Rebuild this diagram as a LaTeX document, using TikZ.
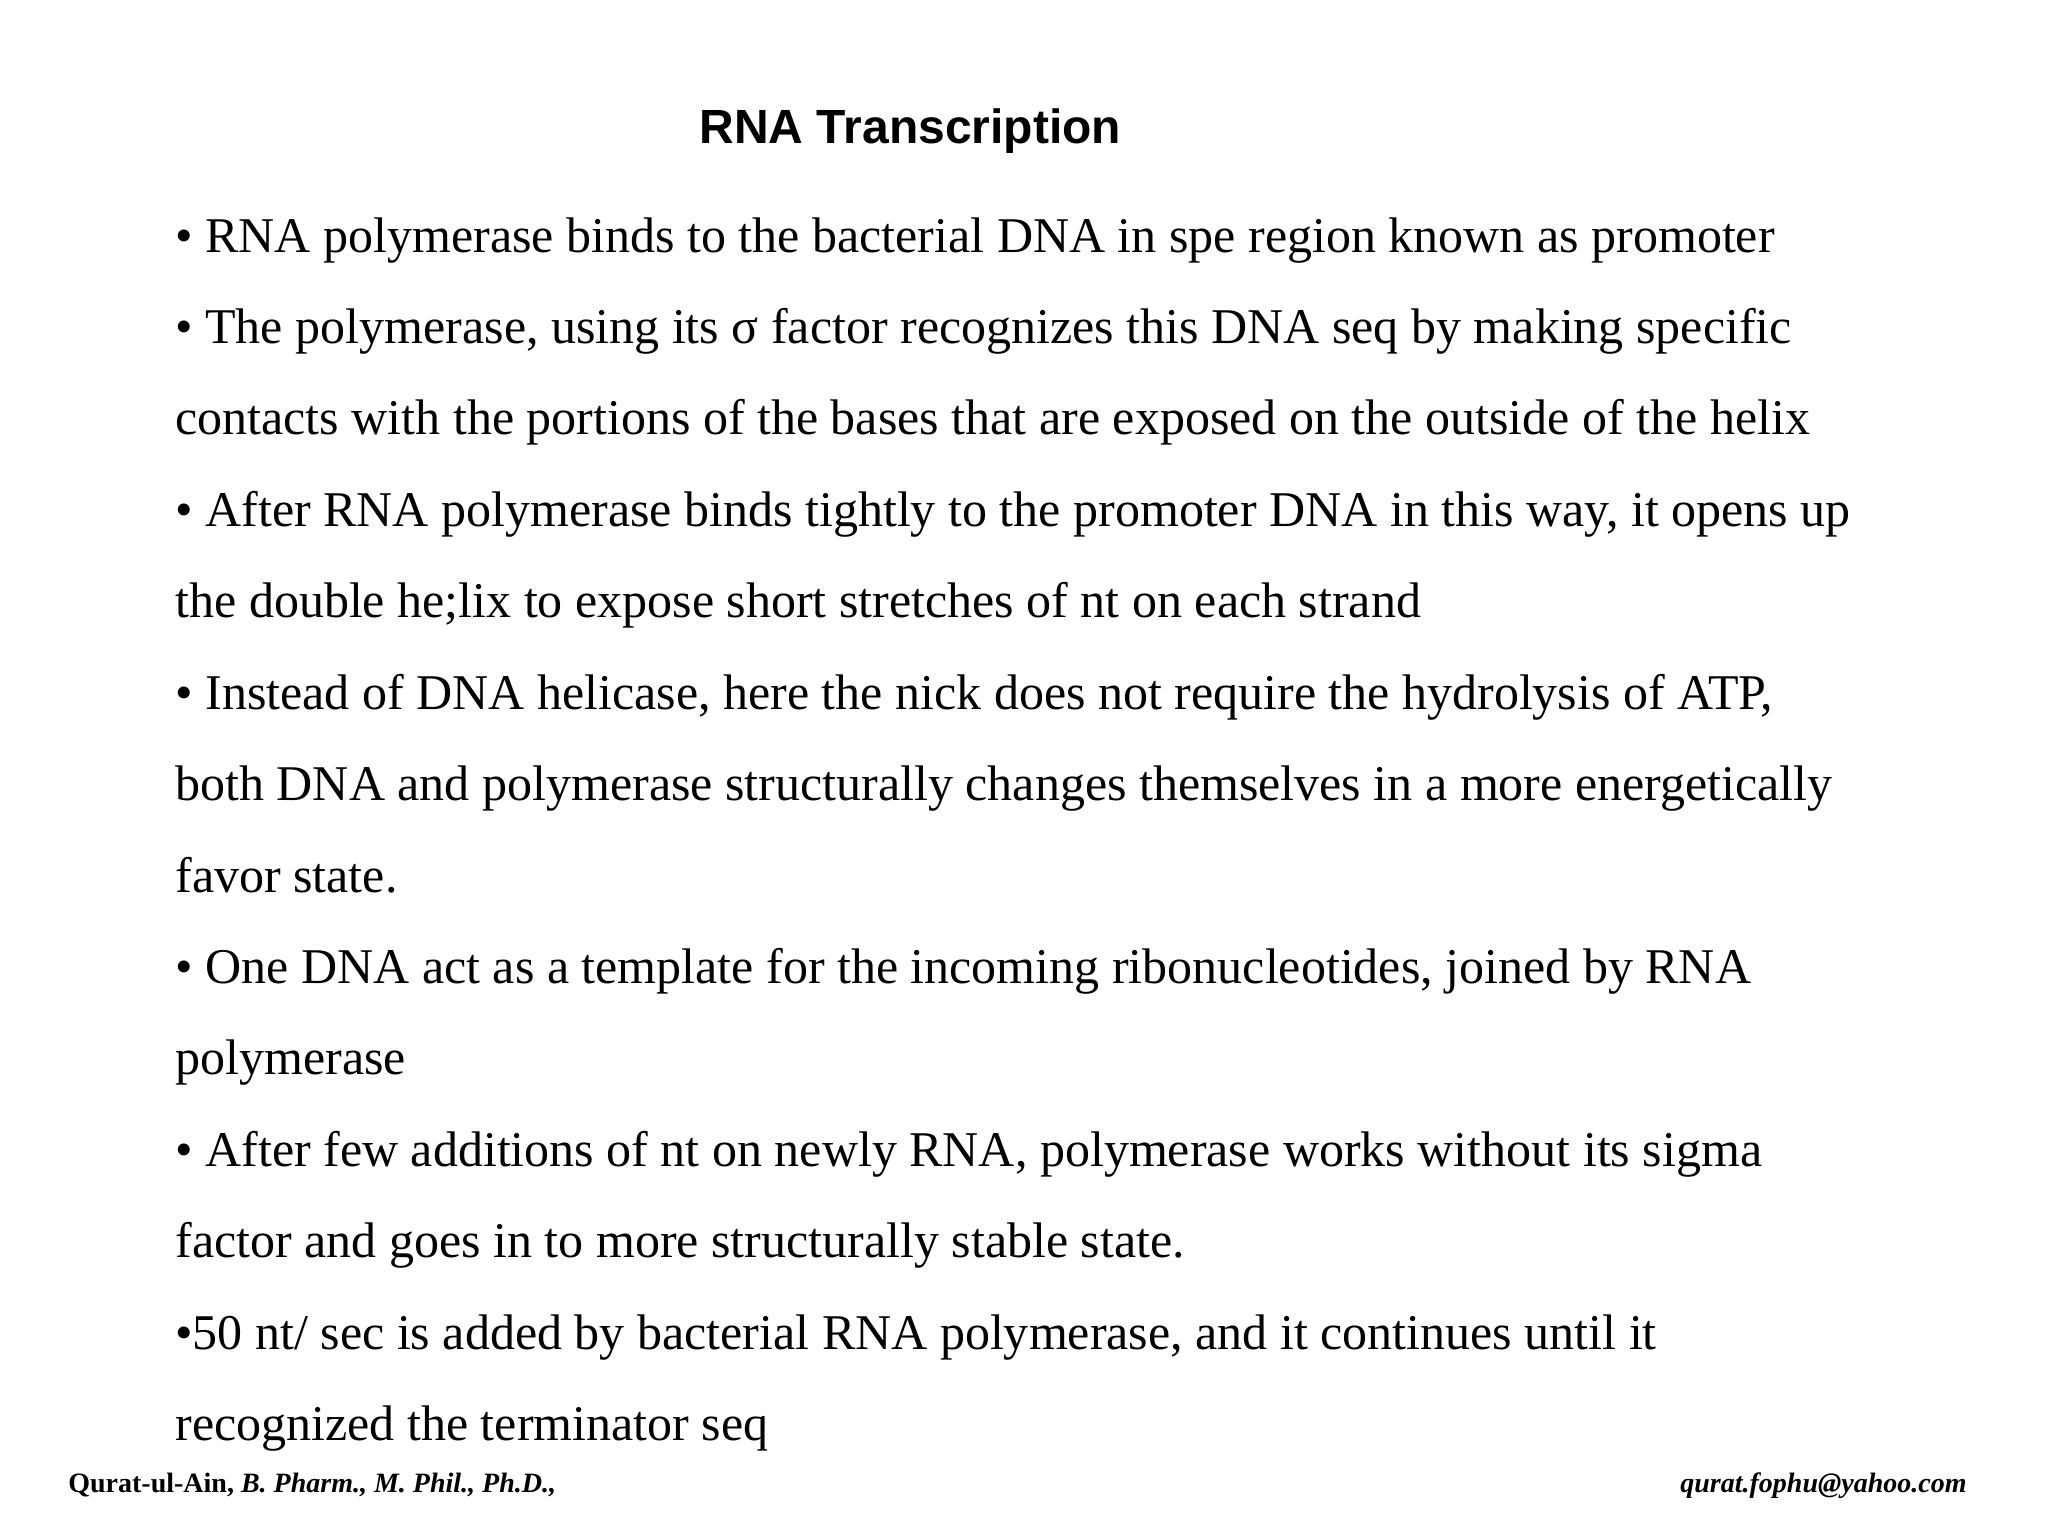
\documentclass[tikz,border=0pt]{standalone}
\usepackage{fontspec}
\setmainfont{Liberation Serif}
\newfontfamily\titlefont{Liberation Sans}
\begin{document}
\begin{tikzpicture}[x=0.653pt,y=-0.653pt,
  ln/.style={anchor=base west,inner sep=0pt,font=\fontsize{25}{30}\selectfont},
  ft/.style={inner sep=0pt,font=\fontsize{14}{17}\selectfont\bfseries}]
\useasboundingbox (0,0) rectangle (1568,1176);
\node[inner sep=0pt,anchor=base,font=\titlefont\fontsize{24}{29}\selectfont\bfseries] (title) at (697,110) {RNA Transcription};
\node[ln] (l1) at (134,193) {• RNA polymerase binds to the bacterial DNA in spe region known as promoter};
\node[ln] (l2) at (134,263) {• The polymerase, using its σ factor recognizes this DNA seq by making specific};
\node[ln] (l3) at (134,333) {contacts with the portions of the bases that are exposed on the outside of the helix};
\node[ln] (l4) at (134,403) {• After RNA polymerase binds tightly to the promoter DNA in this way, it opens up};
\node[ln] (l5) at (134,473) {the double he;lix to expose short stretches of nt on each strand};
\node[ln] (l6) at (134,543) {• Instead of DNA helicase, here the nick does not require the hydrolysis of ATP,};
\node[ln] (l7) at (134,613) {both DNA and polymerase structurally changes themselves in a more energetically};
\node[ln] (l8) at (134,683) {favor state.};
\node[ln] (l9) at (134,753) {• One DNA act as a template for the incoming ribonucleotides, joined by RNA};
\node[ln] (l10) at (134,823) {polymerase};
\node[ln] (l11) at (134,893) {• After few additions of nt on newly RNA, polymerase works without its sigma};
\node[ln] (l12) at (134,963) {factor and goes in to more structurally stable state.};
\node[ln] (l13) at (134,1033) {•50 nt/ sec is added by bacterial RNA polymerase, and it continues until it};
\node[ln] (l14) at (134,1103) {recognized the terminator seq};
\node[ft,anchor=base west] (f1) at (52,1143) {Qurat-ul-Ain, \itshape B. Pharm., M. Phil., Ph.D.,};
\node[ft,anchor=base east] (f2) at (1506,1143) {\itshape qurat.fophu@yahoo.com};
\end{tikzpicture}
\end{document}
